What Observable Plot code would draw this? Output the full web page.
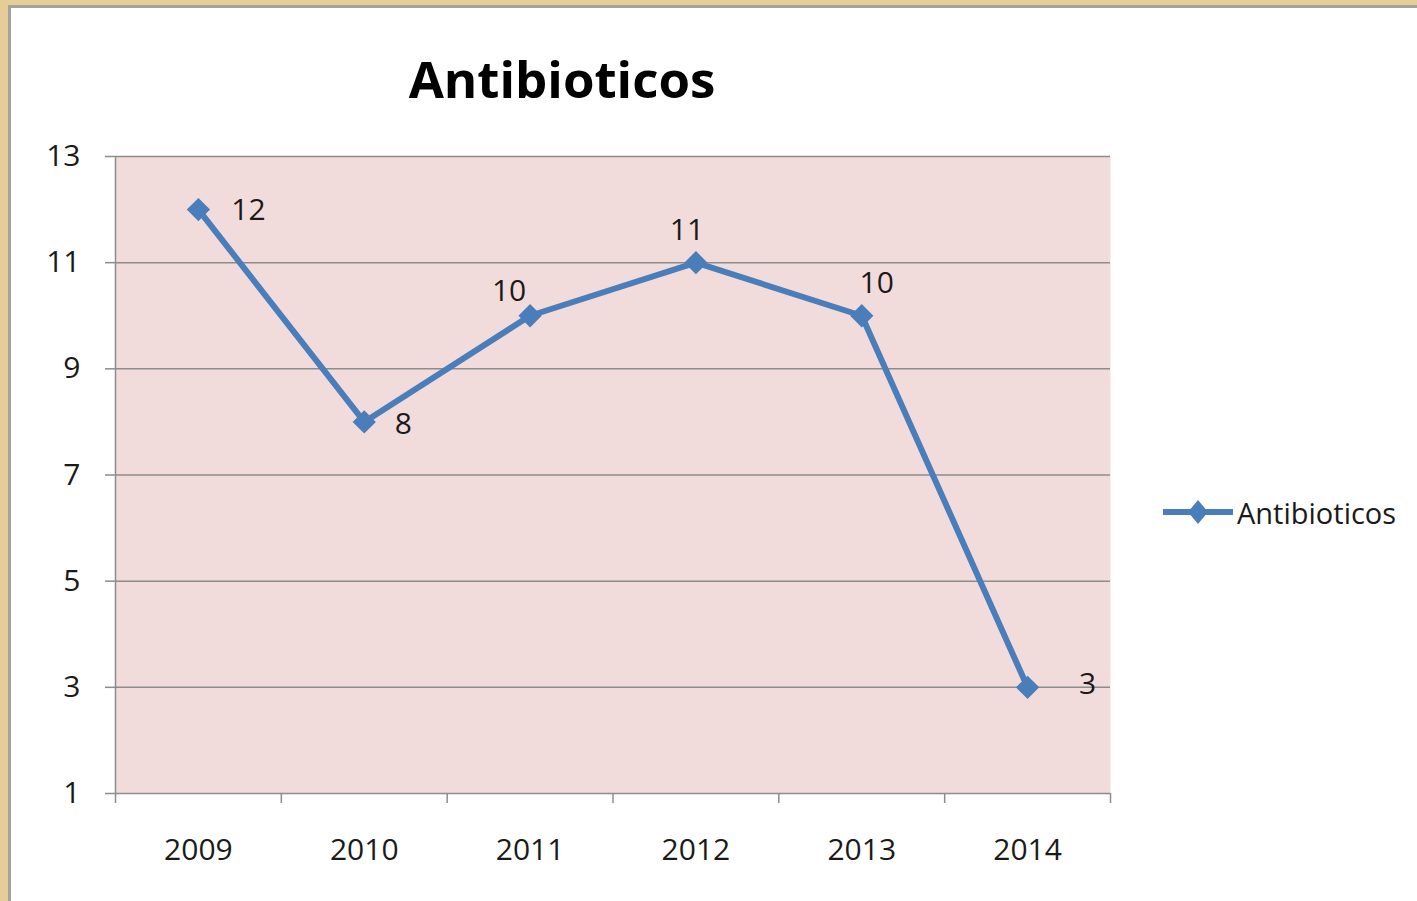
<!DOCTYPE html>
<html>
<head>
<meta charset="utf-8">
<script src="https://cdn.jsdelivr.net/npm/d3@7"></script>
<script src="https://cdn.jsdelivr.net/npm/@observablehq/plot@0.6"></script>
<style>
  html, body { margin: 0; padding: 0; width: 1417px; height: 901px; overflow: hidden; background: #e6cd98; }
  #card { position: absolute; left: 8px; top: 5px; width: 1420px; height: 910px; background: #fff;
          border-left: 3px solid #a4a29c; border-top: 3px solid #a4a29c; box-sizing: border-box; }
  #chart { position: absolute; left: 0; top: 0; width: 1417px; height: 901px; }
  #title { position: absolute; left: 0; width: 1124px; top: 53px; text-align: center;
           font-family: "Open Sans", sans-serif; font-weight: bold; font-size: 51px; line-height: 51px; color: #000; }
  #legend { position: absolute; left: 1163px; top: 496px; height: 32px; display: flex; align-items: center;
            font-family: "Open Sans", sans-serif; font-size: 29px; color: #1a1a1a; }
  #legend span { margin-left: 4px; }
</style>
</head>
<body>
<div id="card"></div>
<div id="chart"></div>
<div id="title">Antibioticos</div>
<div id="legend">
  <svg width="70" height="32" viewBox="0 0 70 32">
    <line x1="1" y1="16" x2="69" y2="16" stroke="#4a7ebb" stroke-width="6" stroke-linecap="round"/>
    <polygon points="35,4 45,16 35,28 25,16" fill="#4a7ebb"/>
  </svg>
  <span>Antibioticos</span>
</div>
<script>
const years = [2009, 2010, 2011, 2012, 2013, 2014];
const values = [12, 8, 10, 11, 10, 3];
const yTicks = [1, 3, 5, 7, 9, 11, 13];
const seriesName = "Antibioticos";

const data = years.map((year, i) => ({year, value: values[i]}));
const boundaries = [years[0] - 0.5, ...years.map(y => y + 0.5)];

const blue = "#4a7ebb";
const gray = "#8c8c8c";
const ink = "#1a1a1a";

// label placement (style, per point)
const labelPlacement = {
  2009: {dx: 50, dy: 1},
  2010: {dx: 39, dy: 2},
  2011: {dx: -21, dy: -24},
  2012: {dx: -9, dy: -32},
  2013: {dx: 15, dy: -32},
  2014: {dx: 60, dy: -3}
};

const labelMarks = data.map(d =>
  Plot.text([d], {x: "year", y: "value", text: d => String(d.value),
    dx: labelPlacement[d.year].dx, dy: labelPlacement[d.year].dy,
    fill: ink, fontSize: 30})
);

const chart = Plot.plot({
  width: 1417,
  height: 901,
  marginLeft: 115,
  marginRight: 307,
  marginTop: 156,
  marginBottom: 108,
  style: {fontFamily: "Open Sans, sans-serif", fontSize: "30px", background: "transparent", color: ink, overflow: "visible"},
  x: {domain: [boundaries[0], boundaries[boundaries.length - 1]], axis: null, label: null},
  y: {domain: [1, 13], axis: null, label: null},
  marks: [
    Plot.frame({fill: "#f2dcdb", stroke: null}),
    Plot.gridY(yTicks, {stroke: gray, strokeOpacity: 1, strokeWidth: 1.5}),
    Plot.ruleX([boundaries[0]], {stroke: gray, strokeWidth: 1.5}),
    Plot.axisY(yTicks, {tickSize: 10, tickPadding: 25, stroke: gray, strokeWidth: 1.5, fill: ink, fontSize: 30, label: null, tickFormat: d => String(d)}),
    Plot.axisX(boundaries, {tickSize: 10, stroke: gray, strokeWidth: 1.5, label: null, tickFormat: () => ""}),
    Plot.axisX(years, {tickSize: 0, tickPadding: 45, fill: ink, fontSize: 30, label: null, tickFormat: d => String(d)}),
    Plot.line(data, {x: "year", y: "value", stroke: blue, strokeWidth: 6, strokeLinejoin: "round"}),
    Plot.dot(data, {x: "year", y: "value", symbol: "diamond2", r: 10.5, fill: blue, stroke: null}),
    ...labelMarks
  ]
});
document.getElementById("chart").appendChild(chart);
</script>
</body>
</html>
